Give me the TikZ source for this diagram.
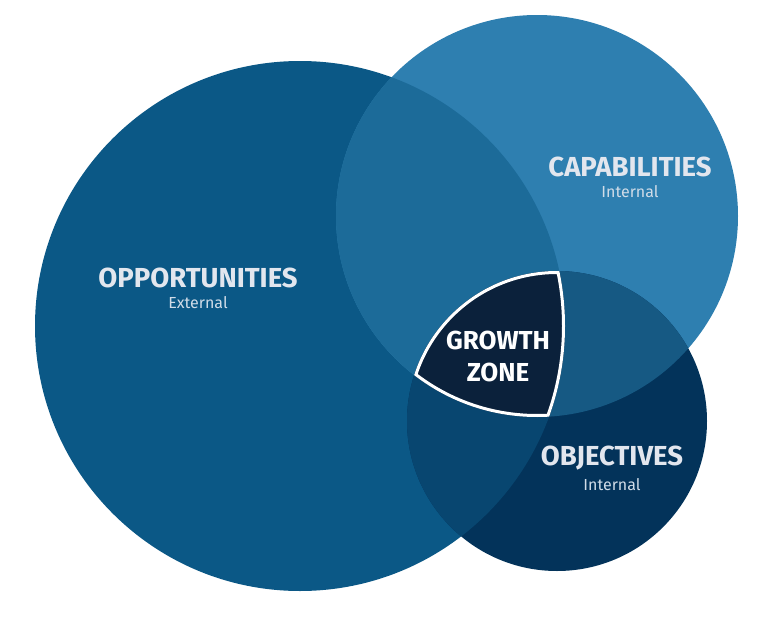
\documentclass[tikz,border=0pt]{standalone}
\usepackage{fontspec}
\setmainfont{Fira Sans}
\usepackage{tikz}
\usetikzlibrary{positioning}
\definecolor{biruOpp}{RGB}{11,88,134}
\definecolor{biruCap}{RGB}{46,127,176}
\definecolor{biruObj}{RGB}{3,51,90}
\definecolor{oppCap}{RGB}{28,107,153}
\definecolor{oppObj}{RGB}{8,70,112}
\definecolor{capObj}{RGB}{22,89,131}
\definecolor{biruGZ}{RGB}{11,33,59}
\definecolor{abuTeks}{RGB}{226,230,238}

\begin{document}
\begin{tikzpicture}[
  x=1pt, y=-1pt,
  judul/.style={font=\fontsize{27.5}{30}\selectfont\bfseries, text=abuTeks, inner sep=0pt},
  sub/.style={font=\fontsize{16}{18}\selectfont, text=abuTeks!90!biruCap, inner sep=0pt},
  gz/.style={font=\fontsize{26}{29}\selectfont\bfseries, text=white, align=center, inner sep=0pt}
]
  \useasboundingbox (0,0) rectangle (780,629);
  \fill[white] (0,0) rectangle (780,629);

  % pusat lingkaran
  \coordinate (oppC) at (300,326);
  \coordinate (capC) at (537,216);
  \coordinate (objC) at (557,421);
  \def\rOpp{265pt}
  \def\rCap{201pt}
  \def\rObj{150pt}

  % lingkaran dasar
  \fill[biruOpp] (oppC) circle[radius=\rOpp];
  \fill[biruCap] (capC) circle[radius=\rCap];
  \fill[biruObj] (objC) circle[radius=\rObj];

  % irisan
  \begin{scope}
    \clip (oppC) circle[radius=\rOpp];
    \fill[oppCap] (capC) circle[radius=\rCap];
    \fill[oppObj] (objC) circle[radius=\rObj];
  \end{scope}
  \begin{scope}
    \clip (capC) circle[radius=\rCap];
    \fill[capObj] (objC) circle[radius=\rObj];
  \end{scope}

  % growth zone
  \begin{scope}
    \clip (oppC) circle[radius=\rOpp];
    \clip (capC) circle[radius=\rCap];
    \clip (objC) circle[radius=\rObj];
    \fill[biruGZ] (objC) circle[radius=\rObj];
    \draw[white, line width=6pt] (oppC) circle[radius=\rOpp]
      (capC) circle[radius=\rCap] (objC) circle[radius=\rObj];
  \end{scope}

  % label
  \node[judul] (opp) at (198,278) {OPPORTUNITIES};
  \node[sub, below=8pt of opp] (oppSub) {External};
  \node[judul] (cap) at (630,167) {CAPABILITIES};
  \node[sub, below=8pt of cap] (capSub) {Internal};
  \node[judul] (obj) at (612,458) {OBJECTIVES};
  \node[sub, below=8pt of obj] (objSub) {Internal};
  \node[gz] (zona) at (498,356) {GROWTH\\[3pt]ZONE};
\end{tikzpicture}
\end{document}
